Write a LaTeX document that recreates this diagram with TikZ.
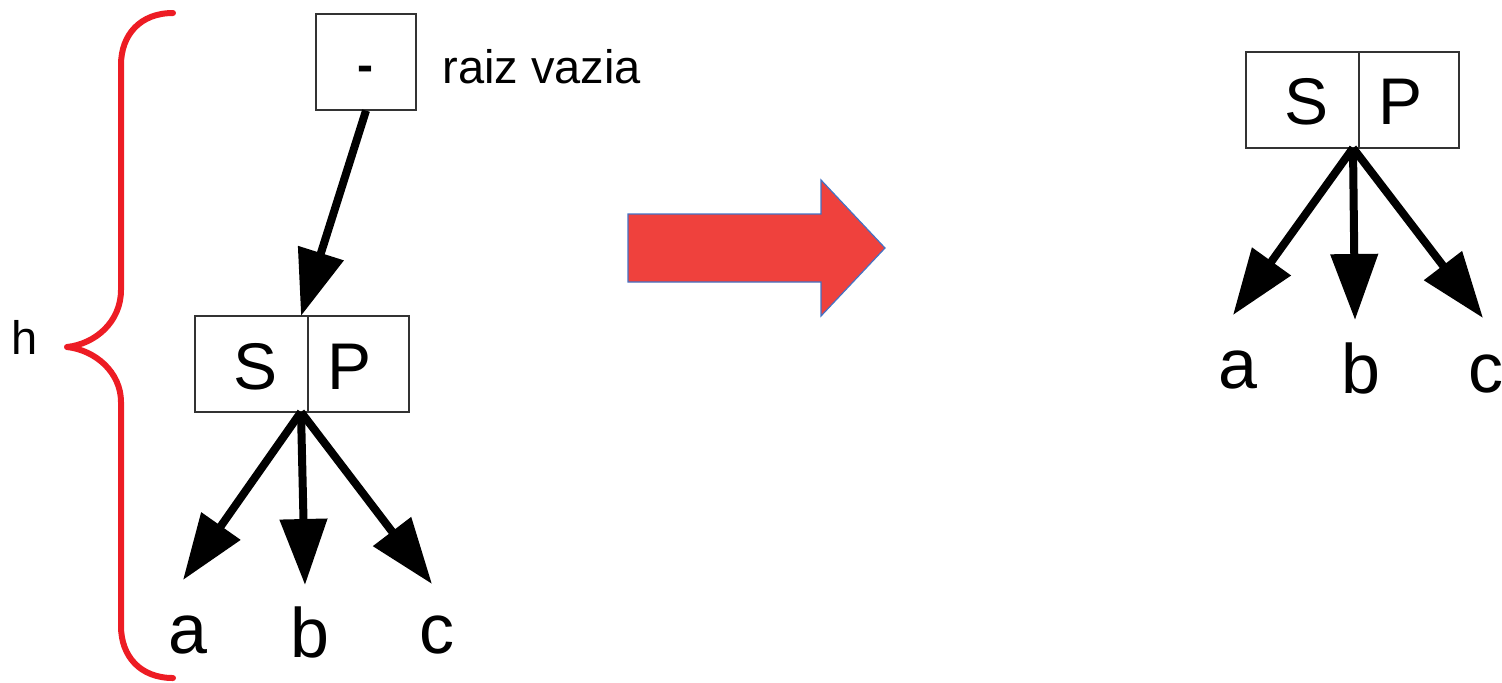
\documentclass[tikz,border=0pt]{standalone}
\usepackage{fontspec}
\setmainfont{Liberation Sans}
\usetikzlibrary{arrows.meta}
\definecolor{bracered}{RGB}{237,28,36}
\definecolor{arrowred}{RGB}{239,65,61}
\definecolor{arrowblue}{RGB}{68,114,196}
\begin{document}
\begin{tikzpicture}[x=0.5pt,y=-0.5pt,
  cell/.style={draw=black!80, line width=0.6pt, rectangle, inner sep=0pt, minimum height=48pt},
  ptr/.style={line width=4pt, -{Triangle[length=33pt,width=23pt]}},
  lab/.style={inner sep=0pt, anchor=base, font=\fontsize{35}{40}\selectfont},
  sp/.style={inner sep=0pt, anchor=base, font=\fontsize{33}{38}\selectfont},
  txt/.style={inner sep=0pt, font=\fontsize{23.5}{28}\selectfont}]
\useasboundingbox (0,0) rectangle (1502,682);

% brace
\draw[bracered, line width=3pt, line cap=round, line join=round]
  (173,13) .. controls (140,13) and (121,35) .. (121,65) -- (121,290)
  .. controls (121,322) and (95,344) .. (67,347)
  .. controls (95,350) and (121,372) .. (121,402) -- (121,626)
  .. controls (121,656) and (140,678) .. (173,678);
\node[txt, anchor=base] (h) at (24.5,354) {h};

% empty root
\node[cell, minimum width=50pt] (root) at (366,62) {};
\node[txt, anchor=base, font=\fontsize{24}{28}\selectfont\bfseries] (dash) at (365,81) {-};
\node[txt, anchor=base west] (raiz) at (442,83) {raiz vazia};

% left S|P node
\node[cell, minimum width=56.5pt] (lS) at (251.5,364) {};
\node[cell, minimum width=50.5pt] (lP) at (358.5,364) {};
\node[sp] (lSt) at (256,389) {S};
\node[sp] (lPt) at (350,389) {P};
\coordinate (lin) at (301,316);
\coordinate (lo) at (301,412);
\coordinate (lta) at (183,580);
\coordinate (ltb) at (305,585);
\coordinate (ltc) at (432,584);
\node[lab] (la) at (188,653) {a};
\node[lab] (lb) at (310,657) {b};
\node[lab] (lc) at (437,653) {c};
\draw[ptr] (root.south) -- (lin);
\draw[ptr] (lo) -- (lta);
\draw[ptr] (lo) -- (ltb);
\draw[ptr] (lo) -- (ltc);

% big arrow
\filldraw[fill=arrowred, draw=arrowblue, line width=0.6pt]
  (628,214) -- (821,214) -- (821,180) -- (885,248) -- (821,316) -- (821,282) -- (628,282) -- cycle;

% right S|P node
\node[cell, minimum width=56.5pt] (rS) at (1302.5,100) {};
\node[cell, minimum width=50pt] (rP) at (1409,100) {};
\node[sp] (rSt) at (1306,124) {S};
\node[sp] (rPt) at (1400,124) {P};
\coordinate (ro) at (1353,148);
\coordinate (rta) at (1233,315);
\coordinate (rtb) at (1355,320);
\coordinate (rtc) at (1483,318);
\node[lab] (ra) at (1238,388) {a};
\node[lab] (rb) at (1361,393) {b};
\node[lab] (rc) at (1486,392) {c};
\draw[ptr] (ro) -- (rta);
\draw[ptr] (ro) -- (rtb);
\draw[ptr] (ro) -- (rtc);
\end{tikzpicture}
\end{document}
